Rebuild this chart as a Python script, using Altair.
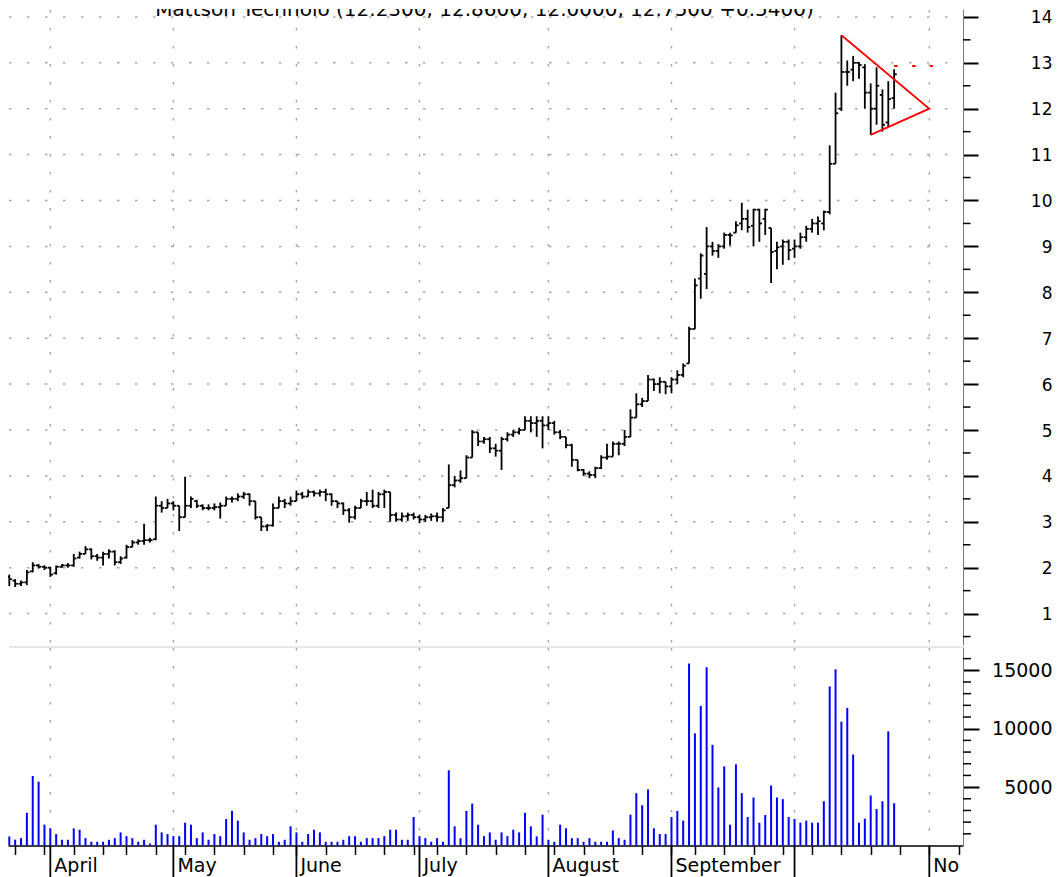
import altair as alt
import pandas as pd

TITLE = "Mattson Technolo (12.2300, 12.8600, 12.0000, 12.7500 +0.5400)"

opens = [1.80, 1.72, 1.65, 1.68, 1.92, 2.05, 2.02, 2.00, 1.88, 2.02,
         2.05, 2.05, 2.22, 2.30, 2.40, 2.25, 2.22, 2.30, 2.35, 2.12,
         2.22, 2.45, 2.55, 2.58, 2.60, 2.62, 3.35, 3.30, 3.40, 3.35,
         3.10, 3.35, 3.45, 3.35, 3.30, 3.30, 3.32, 3.35, 3.50, 3.50,
         3.55, 3.60, 3.45, 3.10, 2.90, 2.92, 3.30, 3.45, 3.40, 3.45,
         3.60, 3.55, 3.65, 3.62, 3.65, 3.60, 3.45, 3.40, 3.25, 3.10,
         3.30, 3.45, 3.45, 3.35, 3.60, 3.65, 3.15, 3.05, 3.12, 3.15,
         3.10, 3.05, 3.10, 3.12, 3.10, 3.30, 3.80, 3.90, 3.95, 4.40,
         4.95, 4.75, 4.80, 4.60, 4.55, 4.80, 4.90, 4.95, 5.00, 5.20,
         5.15, 5.20, 5.10, 5.15, 4.95, 4.85, 4.67, 4.35, 4.13, 4.05,
         4.02, 4.17, 4.40, 4.42, 4.70, 4.70, 4.85, 5.27, 5.56, 5.63,
         6.10, 6.00, 6.05, 5.95, 6.10, 6.20, 6.45, 7.20, 8.30, 8.40,
         9.00, 8.90, 9.00, 9.25, 9.30, 9.50, 9.60, 9.45, 9.80, 9.60,
         9.40, 8.90, 9.00, 9.10, 8.95, 9.00, 9.20, 9.38, 9.50, 9.50,
         9.75, 10.80, 12.00, 12.80, 12.85, 13.00, 12.90, 12.35, 12.00, 12.30,
         11.70, 12.23]

highs = [1.85, 1.75, 1.72, 1.95, 2.12, 2.08, 2.05, 2.02, 2.05, 2.08,
         2.10, 2.30, 2.35, 2.47, 2.42, 2.30, 2.35, 2.40, 2.38, 2.25,
         2.50, 2.60, 2.62, 2.96, 2.65, 3.55, 3.45, 3.50, 3.45, 3.35,
         3.98, 3.55, 3.48, 3.38, 3.38, 3.40, 3.42, 3.55, 3.55, 3.62,
         3.65, 3.62, 3.45, 3.10, 2.95, 3.40, 3.55, 3.50, 3.55, 3.68,
         3.65, 3.70, 3.68, 3.70, 3.72, 3.62, 3.45, 3.42, 3.30, 3.35,
         3.50, 3.65, 3.70, 3.65, 3.70, 3.65, 3.20, 3.20, 3.20, 3.20,
         3.15, 3.15, 3.18, 3.20, 3.30, 4.25, 4.00, 4.12, 4.45, 5.00,
         4.95, 4.85, 4.85, 4.70, 4.85, 4.95, 5.00, 5.05, 5.30, 5.30,
         5.30, 5.30, 5.30, 5.20, 5.00, 4.85, 4.70, 4.35, 4.15, 4.10,
         4.20, 4.45, 4.70, 4.75, 4.75, 5.00, 5.45, 5.80, 5.70, 6.20,
         6.12, 6.15, 6.05, 6.15, 6.30, 6.45, 7.25, 8.30, 8.85, 9.42,
         9.10, 9.05, 9.30, 9.30, 9.55, 9.95, 9.80, 9.82, 9.82, 9.82,
         9.40, 9.10, 9.15, 9.15, 9.15, 9.30, 9.45, 9.60, 9.65, 9.78,
         11.20, 12.35, 13.60, 13.05, 13.15, 13.02, 12.97, 12.55, 12.90, 12.42,
         12.60, 12.86]

lows = [1.60, 1.58, 1.60, 1.62, 1.90, 1.98, 1.95, 1.80, 1.85, 2.00,
        2.00, 2.02, 2.20, 2.30, 2.18, 2.15, 2.05, 2.20, 2.05, 2.08,
        2.20, 2.45, 2.50, 2.50, 2.55, 2.60, 3.20, 3.30, 3.25, 2.80,
        3.10, 3.30, 3.30, 3.25, 3.25, 3.25, 3.07, 3.35, 3.42, 3.45,
        3.50, 3.35, 3.05, 2.80, 2.80, 2.90, 3.30, 3.30, 3.35, 3.45,
        3.50, 3.55, 3.55, 3.55, 3.45, 3.35, 3.30, 3.15, 2.98, 3.05,
        3.30, 3.35, 3.30, 3.30, 3.30, 3.00, 3.00, 3.00, 3.02, 3.05,
        2.97, 3.00, 3.02, 3.00, 3.00, 3.30, 3.75, 3.85, 3.95, 4.40,
        4.65, 4.70, 4.50, 4.42, 4.13, 4.75, 4.85, 4.90, 5.00, 4.95,
        4.85, 4.60, 5.00, 4.90, 4.80, 4.60, 4.20, 4.10, 4.00, 3.95,
        3.95, 4.15, 4.35, 4.42, 4.45, 4.65, 4.85, 5.27, 5.50, 5.63,
        5.85, 5.80, 5.78, 5.80, 6.00, 6.15, 6.45, 7.20, 7.86, 8.07,
        8.80, 8.75, 8.95, 9.02, 9.30, 9.35, 9.30, 9.00, 9.10, 9.25,
        8.20, 8.50, 8.60, 8.70, 8.75, 8.95, 9.10, 9.30, 9.25, 9.35,
        9.70, 10.80, 11.95, 12.50, 12.60, 12.65, 12.00, 11.43, 11.65, 11.50,
        11.60, 12.00]

closes = [1.75, 1.65, 1.68, 1.90, 2.05, 2.02, 2.00, 1.85, 2.02, 2.05,
          2.05, 2.20, 2.30, 2.40, 2.25, 2.22, 2.30, 2.35, 2.12, 2.20,
          2.45, 2.55, 2.58, 2.60, 2.60, 3.35, 3.30, 3.40, 3.35, 3.10,
          3.35, 3.50, 3.35, 3.30, 3.30, 3.32, 3.35, 3.50, 3.50, 3.55,
          3.60, 3.45, 3.10, 2.90, 2.92, 3.30, 3.45, 3.40, 3.45, 3.60,
          3.55, 3.65, 3.62, 3.65, 3.60, 3.45, 3.40, 3.25, 3.10, 3.30,
          3.45, 3.45, 3.35, 3.60, 3.65, 3.15, 3.05, 3.12, 3.15, 3.10,
          3.05, 3.10, 3.12, 3.10, 3.25, 3.80, 3.90, 3.95, 4.40, 4.95,
          4.75, 4.80, 4.60, 4.55, 4.80, 4.90, 4.95, 5.00, 5.20, 5.15,
          5.20, 5.10, 5.15, 4.95, 4.85, 4.67, 4.35, 4.13, 4.05, 4.02,
          4.17, 4.40, 4.42, 4.70, 4.70, 4.85, 5.27, 5.56, 5.63, 6.10,
          6.00, 6.05, 5.95, 6.10, 6.20, 6.40, 7.20, 8.15, 8.80, 9.00,
          8.90, 9.00, 9.25, 9.24, 9.46, 9.60, 9.42, 9.80, 9.50, 9.80,
          8.88, 8.98, 9.10, 8.92, 9.00, 9.20, 9.38, 9.50, 9.55, 9.75,
          10.80, 11.90, 12.80, 12.80, 13.00, 12.95, 12.35, 12.00, 12.50, 11.65,
          12.21, 12.75]

volumes = [780, 500, 630, 2800, 5950, 5460, 1780, 1470, 980, 490,
           490, 1470, 1350, 630, 320, 320, 320, 490, 630, 1120,
           800, 630, 320, 490, 170, 1780, 1120, 980, 800, 800,
           1950, 1780, 630, 1120, 490, 980, 800, 2270, 2960, 2130,
           1120, 490, 630, 980, 800, 980, 320, 490, 1640, 1120,
           320, 980, 1350, 1120, 320, 320, 320, 490, 800, 800,
           320, 630, 630, 630, 800, 1350, 1350, 490, 490, 2440,
           800, 630, 320, 630, 320, 6440, 1640, 630, 2960, 3590,
           1780, 800, 1120, 490, 1120, 800, 1350, 1120, 2800, 1640,
           780, 2640, 490, 320, 1780, 1470, 630, 630, 320, 630,
           320, 320, 320, 1290, 630, 490, 2640, 4480, 3450, 4800,
           1470, 980, 980, 2440, 2960, 2130, 15580, 9600, 11950, 15260,
           8620, 4970, 6780, 1780, 6950, 4480, 2440, 4110, 1950, 2610,
           5140, 4110, 3970, 2440, 2270, 1950, 2130, 1950, 1950, 3790,
           13620, 15090, 10600, 11780, 7790, 1950, 2300, 4280, 3130, 3790,
           9770, 3620]

month_pos = [7, 28, 49, 70, 92, 113, 134, 157]
month_names = ["April", "May", "June", "July", "August", "September", "", "No"]
week_pos = [1, 6, 11, 16, 20, 25, 30, 35, 40, 45, 49, 54, 59, 64, 69, 73, 78, 83,
            88, 93, 98, 103, 108, 113, 117, 122, 127, 132, 137, 142, 147, 152, 157, 162]
price_major = [1, 2, 3, 4, 5, 6, 7, 8, 9, 10, 11, 12, 13, 14]
price_minor = [0.5, 1.5, 2.5, 3.5, 4.5, 5.5, 6.5, 7.5, 8.5, 9.5, 10.5, 11.5, 12.5, 13.5]
vol_major = [5000, 10000, 15000]
vol_minor = [1000, 2000, 3000, 4000, 6000, 7000, 8000, 9000, 11000, 12000,
             13000, 14000, 16000]
tri_x = [142, 157, 147]
tri_y = [13.6, 12.0, 11.43]
target_x = [151, 157.6]
target_y = 12.93

W, HP, HV = 955, 636, 198.5
FONT = "DejaVu Sans"
GRID = "#a8a8a8"
DOTS = [2.5, 15.5]

xs = alt.Scale(domain=[-0.222, 162.75], nice=False, zero=False)
ps = alt.Scale(domain=[0.316, 14.172], nice=False, zero=False)
vs = alt.Scale(domain=[0, 16995], nice=False, zero=False)

PAX = alt.Axis(orient="right", values=price_major, tickSize=15, tickWidth=2,
               tickColor="black", domainColor="#7a7a7a", domainWidth=1,
               labelFont=FONT, labelFontSize=17, labelColor="black",
               labelAlign="right", labelBaseline="middle", labelPadding=74,
               labelOffset=1, labelFlush=False, labelOverlap=False, grid=False,
               title=None)
VAX = alt.Axis(orient="right", values=vol_major, format="d", tickSize=16, tickWidth=2,
               tickColor="black", domainColor="#7a7a7a", domainWidth=1,
               labelFont=FONT, labelFontSize=19, labelColor="black",
               labelAlign="right", labelBaseline="middle", labelPadding=73,
               labelFlush=False, labelOverlap=False, grid=False, title=None)
XAX = alt.Axis(orient="bottom", values=week_pos, tickSize=9, tickWidth=1.5,
               tickColor="black", domainColor="black", domainWidth=1.5,
               labels=False, grid=False, title=None)

df = pd.DataFrame({"i": list(range(len(closes))), "open": opens, "high": highs,
                   "low": lows, "close": closes})
dv = pd.DataFrame({"i": list(range(len(volumes))), "vol": volumes})
dm = pd.DataFrame({"m": month_pos, "name": month_names})
dpg = pd.DataFrame({"p": price_major})
dpm = pd.DataFrame({"p": price_minor})
dvm = pd.DataFrame({"v": vol_minor})
dtri = pd.DataFrame({"x": tri_x, "y": tri_y, "k": [0, 1, 2]})
dtg = pd.DataFrame({"x1": [target_x[0]], "x2": [target_x[1]], "y": [target_y]})
dtitle = pd.DataFrame({"t": [TITLE]})
done = pd.DataFrame({"a": [0]})

# ---------- price panel ----------
hgrid = alt.Chart(dpg).mark_rule(color=GRID, strokeWidth=1.5, strokeDash=DOTS).encode(
    y=alt.Y("p:Q", scale=ps, axis=PAX), x=alt.value(1), x2=alt.value(W))
vgrid = alt.Chart(dm).mark_rule(color=GRID, strokeWidth=1.5, strokeDash=DOTS).encode(
    x=alt.X("m:Q", scale=xs, axis=None), y=alt.value(1), y2=alt.value(HP))
hl = alt.Chart(df).mark_rule(color="black", strokeWidth=1.8).encode(
    x=alt.X("i:Q", scale=xs, axis=None),
    y=alt.Y("low:Q", scale=ps, axis=PAX),
    y2="high:Q")
op = alt.Chart(df).transform_calculate(xo="datum.i - 0.45").mark_rule(
    color="black", strokeWidth=1.8, clip=True).encode(
    x=alt.X("xo:Q", scale=xs, axis=None), x2="i:Q",
    y=alt.Y("open:Q", scale=ps, axis=PAX))
cl = alt.Chart(df).transform_calculate(xc="datum.i + 0.45").mark_rule(
    color="black", strokeWidth=1.8).encode(
    x=alt.X("i:Q", scale=xs, axis=None), x2="xc:Q",
    y=alt.Y("close:Q", scale=ps, axis=PAX))
tri = alt.Chart(dtri).mark_line(color="#ff0000", strokeWidth=1.8).encode(
    x=alt.X("x:Q", scale=xs, axis=None), y=alt.Y("y:Q", scale=ps, axis=PAX),
    order="k:O")
tgt = alt.Chart(dtg).mark_rule(color="#ff0000", strokeWidth=1.8, strokeDash=[3.5, 14.5]).encode(
    x=alt.X("x1:Q", scale=xs, axis=None), x2="x2:Q",
    y=alt.Y("y:Q", scale=ps, axis=PAX))
pminor = alt.Chart(dpm).mark_rule(color="black", strokeWidth=1.5).encode(
    y=alt.Y("p:Q", scale=ps, axis=PAX), x=alt.value(W), x2=alt.value(W + 7.5))
title = alt.Chart(dtitle).mark_text(font=FONT, fontSize=20, align="center",
                                    baseline="alphabetic", clip=True, color="black").encode(
    x=alt.value(476.5), y=alt.value(7), text="t:N")

price = alt.layer(hgrid, vgrid, hl, op, cl, tri, tgt, pminor, title).properties(
    width=W, height=HP)

# ---------- volume panel ----------
vgrid2 = alt.Chart(dm).mark_rule(color=GRID, strokeWidth=1.5, strokeDash=DOTS).encode(
    x=alt.X("m:Q", scale=xs, axis=XAX), y=alt.value(1), y2=alt.value(HV))
divider = alt.Chart(done).mark_rule(color="#d0d0d0", strokeWidth=1).encode(
    x=alt.value(1), x2=alt.value(W), y=alt.value(0))
vol = alt.Chart(dv).mark_rule(color="#0000ff", strokeWidth=2).encode(
    x=alt.X("i:Q", scale=xs, axis=XAX),
    y=alt.Y("vol:Q", scale=vs, axis=VAX),
    y2=alt.value(HV))
vminor = alt.Chart(dvm).mark_rule(color="black", strokeWidth=1.5).encode(
    y=alt.Y("v:Q", scale=vs, axis=VAX), x=alt.value(W), x2=alt.value(W + 8))
mlines = alt.Chart(dm).mark_rule(color="black", strokeWidth=1.8).encode(
    x=alt.X("m:Q", scale=xs, axis=XAX), y=alt.value(HV), y2=alt.value(HV + 34))
mtext = alt.Chart(dm).mark_text(font=FONT, fontSize=19, align="left",
                                baseline="alphabetic", dx=4, color="black").encode(
    x=alt.X("m:Q", scale=xs, axis=XAX), y=alt.value(HV + 26), text="name:N")

volume = alt.layer(vgrid2, divider, vol, vminor, mlines, mtext).properties(
    width=W, height=HV)

chart = alt.vconcat(price, volume, spacing=0).properties(
    padding=0, background="white").configure_view(stroke=None)

chart.save("out.html", embed_options={"renderer": "svg", "actions": False})
